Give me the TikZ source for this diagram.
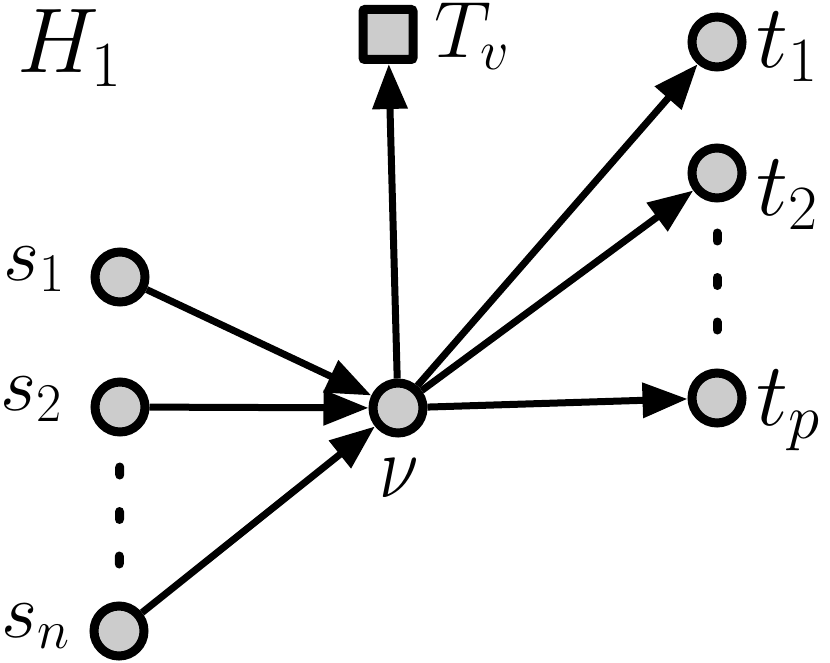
\RequirePackage{fix-cm}
\documentclass[tikz,border=0pt]{standalone}
\usepackage{graphicx}
\usetikzlibrary{arrows.meta}
\definecolor{nodegray}{RGB}{204,204,204}
\tikzset{
  vtx/.style={circle, draw=black, fill=nodegray, line width=9pt, minimum size=50pt, inner sep=0pt},
  sqvtx/.style={rectangle, draw=black, fill=nodegray, line width=9pt, minimum size=50pt, inner sep=0pt, rounded corners=2pt},
  arr/.style={line width=7pt, -{Triangle[length=45pt,width=34pt]}},
  dots/.style={line width=9pt, line cap=round, dash pattern=on 8pt off 36.5pt, dash phase=14pt, shorten >=20pt},
  lbl/.style={inner sep=0pt, anchor=base west},
}
\newcommand{\lsz}[1]{\fontsize{#1}{#1}\selectfont}
\begin{document}
\begin{tikzpicture}[x=1pt, y=-1pt]
\useasboundingbox (0,0) rectangle (830,663);
\node[vtx] (s1) at (120,277) {};
\node[vtx] (s2) at (120,407) {};
\node[vtx] (sn) at (119,631) {};
\node[vtx] (v) at (398,408) {};
\node[sqvtx] (Tv) at (388,34.5) {};
\node[vtx] (t1) at (717,42) {};
\node[vtx] (t2) at (717,173) {};
\node[vtx] (tp) at (717,398) {};

\draw[arr] (s1) -- (v);
\draw[arr] (s2) -- (v);
\draw[arr] (sn) -- (v);
\draw[arr] (v) -- (Tv);
\draw[arr] (v) -- (t1);
\draw[arr] (v) -- (t2);
\draw[arr] (v) -- (tp);

\draw[dots] (s2) -- (sn);
\draw[dots] (t2) -- (tp);

\node[lbl] (lH) at (17,73) {\lsz{92}$H_1$};
\node[lbl] (ls1) at (3,280) {\lsz{78}$s_1$};
\node[lbl] (ls2) at (0,410) {\lsz{78}$s_2$};
\node[lbl] (lsn) at (1,637) {\lsz{78}$s_n$};
\node[inner sep=0pt, anchor=base] (lv) at (399,497) {\scalebox{0.8}[1]{\lsz{90}$\nu$}};
\node[lbl] (lTv) at (434,58) {\lsz{80}$T_v$};
\node[lbl] (lt1) at (756,68) {\lsz{90}$t_1$};
\node[lbl] (lt2) at (756,216) {\lsz{90}$t_2$};
\node[lbl] (ltp) at (756,425) {\lsz{90}$t_p$};
\end{tikzpicture}
\end{document}
